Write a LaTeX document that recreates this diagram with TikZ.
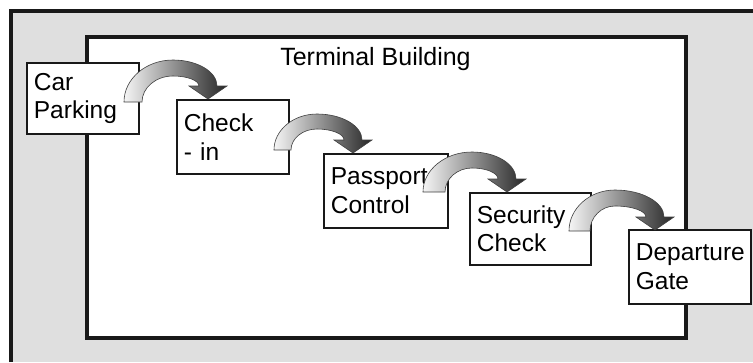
\documentclass[tikz,border=0pt]{standalone}
\usepackage{fontspec}
\setmainfont{Liberation Sans}
\newcommand\flowarc[8]{%
  \pgfmathsetmacro\faA{#1}%
  \pgfmathsetmacro\faB{#1+#2}%
  \pgfmathsetmacro\faF{#3}%
  \pgfmathsetmacro\faPx{#4}%
  \pgfmathsetmacro\faPy{#5}%
  \pgfmathsetmacro\faQy{#5+#8}%
  \pgfmathsetmacro\faT{#6}%
  \pgfmathsetmacro\faTy{#7}%
  \pgfmathsetmacro\faW{#7-13}%
  \pgfmathsetmacro\faRo{#6+9}%
  \pgfmathsetmacro\faRi{#6-9}%
  \pgfmathsetmacro\faWo{#6+19}%
  \pgfmathsetmacro\faWi{#6-19}%
  \pgfmathsetmacro\faCa{\faF-0.552*(\faF-\faPy)}%
  \pgfmathsetmacro\faCb{\faPx-0.552*(\faPx-\faA)}%
  \pgfmathsetmacro\faCc{\faPx+0.552*(\faRo-\faPx)}%
  \pgfmathsetmacro\faCd{\faW-0.552*(\faW-\faPy)}%
  \pgfmathsetmacro\faCe{\faW-0.552*(\faW-\faQy)}%
  \pgfmathsetmacro\faCf{\faPx+0.552*(\faRi-\faPx)}%
  \pgfmathsetmacro\faCg{\faPx-0.552*(\faPx-\faB)}%
  \pgfmathsetmacro\faCh{\faF-0.552*(\faF-\faQy)}%
  \shade[arcshade] (\faA,\faF) .. controls (\faA,\faCa) and (\faCb,\faPy) .. (\faPx,\faPy)
    .. controls (\faCc,\faPy) and (\faRo,\faCd) .. (\faRo,\faW)
    -- (\faWo,\faW) -- (\faT,\faTy) -- (\faWi,\faW) -- (\faRi,\faW)
    .. controls (\faRi,\faCe) and (\faCf,\faQy) .. (\faPx,\faQy)
    .. controls (\faCg,\faQy) and (\faB,\faCh) .. (\faB,\faF) -- cycle;%
}
\begin{document}
\begin{tikzpicture}[x=1pt,y=-1pt,
  stagebox/.style={draw=black!90, line width=1.8pt, fill=white, inner xsep=7pt, inner ysep=0pt,
    align=left, font=\fontsize{24.5}{28.5}\selectfont},
  arcshade/.style={left color=gray!8, right color=black!85, draw=black!75, line width=0.6pt}]
\useasboundingbox (0,0) rectangle (753,362);
% outer frame
\fill[gray!25!white] (11,11) rectangle (753,362);
\draw[black!90, line width=3.8pt] (11,362) -- (11,11) -- (753,11);
% terminal building
\node[draw=black!90, line width=4pt, fill=white, minimum width=599.5pt, minimum height=301pt,
  inner sep=0pt, anchor=north west] (building) at (84.5,34.5) {};
\node[font=\fontsize{25}{30}\selectfont, anchor=base] (title) at (375.5,65) {Terminal Building};
% stage boxes
\node[stagebox, text width=98pt, minimum height=71pt, anchor=north west] (park) at (26,62) {Car\\Parking};
\node[stagebox, text width=98pt, minimum height=74pt, anchor=north west] (checkin) at (176,99) {Check\\- in};
\node[stagebox, text width=110pt, minimum height=74pt, anchor=north west] (passport) at (323,153) {Passport\\Control};
\node[stagebox, text width=107pt, minimum height=72pt, anchor=north west] (security) at (469,192) {Security\\Check};
\node[stagebox, text width=108pt, minimum height=74pt, anchor=north west] (gate) at (628,229) {Departure\\Gate};
% curved arrows
\flowarc{124}{18}{102}{173}{60}{208}{99}{16}
\flowarc{274}{17}{150}{317}{114}{353}{153}{15}
\flowarc{423}{22}{192}{472}{152}{507}{192}{16}
\flowarc{569}{21}{231}{615}{190}{655}{230}{16}
\end{tikzpicture}
\end{document}
